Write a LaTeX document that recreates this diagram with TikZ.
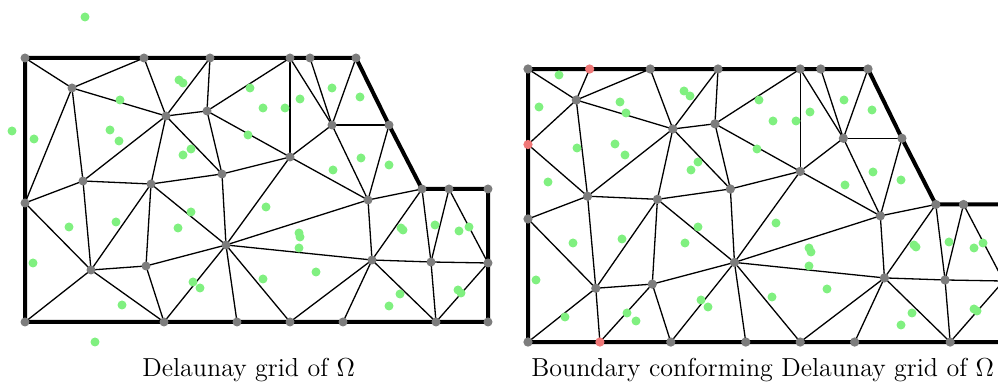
\RequirePackage{fix-cm}
\documentclass[tikz,border=0pt]{standalone}
\usepackage{amsmath,amssymb}
\usepackage{tikz}

\definecolor{ptgray}{RGB}{125,125,125}
\definecolor{ptgreen}{RGB}{128,240,128}
\definecolor{ptred}{RGB}{240,120,120}

% 网格顶点 (像素坐标)
\def\meshpts{b1/25/58,b2/144/58,b3/210/58,b4/290/58,b5/310/58,b6/356/58,b7/389/125,b8/422/189,b9/449/189,b10/488/189,b11/488/263,b12/488/322,b13/436/322,b14/343/322,b15/290/322,b16/237/322,b17/164/322,b18/25/322,b19/25/203,i1/72/88,i2/166/116,i3/207/111,i4/83/181,i5/151/184,i6/222/174,i7/290/157,i8/332/125,i9/368/200,i10/226/245,i11/91/270,i12/146/266,i13/372/260,i14/431/262}
% 两图共有的网格边
\def\meshedges{b1/i1,b2/i1,i1/i2,b2/i2,b3/i2,b3/i3,i2/i3,i1/i4,i2/i4,i2/i5,i2/i6,i3/i6,i3/b4,i3/i7,i4/i5,i5/i6,i6/i7,i6/i10,i5/i12,i5/i10,i5/i11,i4/i11,i4/b19,b19/i11,b18/i11,i11/i12,i12/b17,i12/i10,b17/i10,i10/b16,i10/b15,i10/i13,i10/i9,i10/i7,i7/i9,i8/i9,b7/i9,i9/b8,i9/i13,i13/b8,i13/b14,i13/b15,i13/b13,i13/i14,b8/i14,b9/i14,b9/b11,i14/b11,i14/b13,b13/b11,b4/i7,b4/i8,b5/i8,b6/i8,i8/b7,i8/i7}

\begin{document}
\begin{tikzpicture}[x=0.5pt, y=-0.5pt,
    edge/.style={line width=0.65pt},
    wall/.style={line width=2pt, line join=miter},
    vert/.style={fill=ptgray},
    seed/.style={fill=ptgreen},
    proj/.style={fill=ptred},
    caption/.style={anchor=base west, inner sep=0pt, font=\fontsize{13}{15}\selectfont}]
    \clip (0,0) rectangle (998,383);

    % 左图: Delaunay 网格
    \begin{scope}[name prefix=L-]
        \foreach \n/\x/\y in \meshpts \coordinate (\n) at (\x,\y);
        \foreach \a/\b in \meshedges \draw[edge] (\a) -- (\b);
        \draw[edge] (i1) -- (b19) (i11) -- (b17);
        % 边界
        \draw[wall] (b1) -- (b6) -- (b7) -- (b8) -- (b10) -- (b12) -- (b18) -- cycle;
        \foreach \n/\x/\y in \meshpts \fill[vert] (\n) circle[radius=4.5];
    \end{scope}
    % 随机点
    \foreach \x/\y in {85/17,179/80,183/83,120/100,12/131,34/139,110/130,119/141,191/149,183/155,250/88,248/135,263/108,285/108,300/99,332/88,360/97,333/170,361/158,389/165,69/227,116/222,178/228,191/212,33/263,193/282,200/288,122/305,95/342,266/207,299/233,300/237,299/248,316/272,263/279,401/228,403/230,435/225,459/231,469/227,458/290,461/293,400/294,389/306}
        \fill[seed] (\x,\y) circle[radius=4.5];
    \node[caption] (capL) at (142,377) {Delaunay grid of $\Omega$};

    % 右图: 边界一致的 Delaunay 网格
    \begin{scope}[shift={(528,69)}, xscale=1.027, yscale=1.034, shift={(-25,-58)}, name prefix=R-]
        \foreach \n/\x/\y in \meshpts \coordinate (\n) at (\x,\y);
        % 投影到边界上的点
        \coordinate (r1) at (85,58);
        \coordinate (r2) at (25,131);
        \coordinate (r3) at (95,322);
        \foreach \a/\b in \meshedges \draw[edge] (\a) -- (\b);
        \draw[edge] (i1) -- (r1) (i1) -- (r2) -- (i4) (i11) -- (r3) -- (i12);
        \draw[wall] (b1) -- (b6) -- (b7) -- (b8) -- (b10) -- (b12) -- (b18) -- cycle;
        \foreach \n/\x/\y in \meshpts \fill[vert] (\n) circle[radius=4.5];
        \foreach \n in {r1,r2,r3} \fill[proj] (\n) circle[radius=4.5];
    \end{scope}
    \foreach \x/\y in {559/75,539/107,620/102,626/113,684/91,690/96,759/100,577/148,615/144,625/155,548/182,698/162,691/170,757/149,773/121,796/121,810/112,844/100,872/110,873/172,845/185,901/180,776/223,573/243,536/280,565/317,622/239,627/313,636/321,685/243,698/227,701/300,708/307,809/248,811/252,809/266,827/289,772/297,914/245,916/247,949/242,974/248,983/243,912/313,901/325,974/309,977/311}
        \fill[seed] (\x,\y) circle[radius=4.5];
    \node[caption] (capR) at (531,377) {Boundary conforming Delaunay grid of $\Omega$};
\end{tikzpicture}
\end{document}
